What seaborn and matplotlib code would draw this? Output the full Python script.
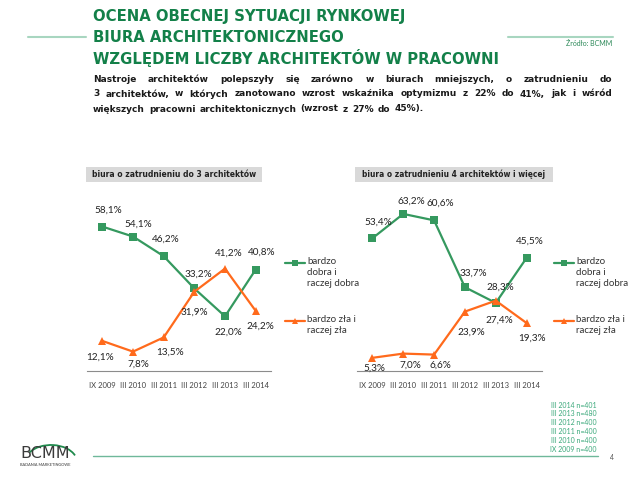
import matplotlib
matplotlib.use("Agg")
import matplotlib.pyplot as plt
from matplotlib.lines import Line2D
from matplotlib.patches import Rectangle, Arc
import pandas as pd
import seaborn as sns

W, H = 638, 480

OKRESY = ["IX 2009", "III 2010", "III 2011", "III 2012", "III 2013", "III 2014"]
MALE_DOBRA = [58.1, 54.1, 46.2, 33.2, 22.0, 40.8]
MALE_ZLA = [12.1, 7.8, 13.5, 31.9, 41.2, 24.2]
DUZE_DOBRA = [53.4, 63.2, 60.6, 33.7, 27.4, 45.5]
DUZE_ZLA = [5.3, 7.0, 6.6, 23.9, 28.3, 19.3]
SERIE = ["bardzo\ndobra i\nraczej dobra", "bardzo zła i\nraczej zła"]
PROBY = ["III 2014 n=401", "III 2013 n=480", "III 2012 n=400",
         "III 2011 n=400", "III 2010 n=400", "IX 2009 n=400"]

TYTUL = ["OCENA OBECNEJ SYTUACJI RYNKOWEJ",
         "BIURA ARCHITEKTONICZNEGO",
         "WZGLĘDEM LICZBY ARCHITEKTÓW W PRACOWNI"]
OPIS = ["Nastroje architektów polepszyły się zarówno w biurach mniejszych, o zatrudnieniu do",
        "3 architektów, w których zanotowano wzrost wskaźnika optymizmu z 22% do 41%, jak i wśród",
        "większych pracowni architektonicznych (wzrost z 27% do 45%)."]

GREEN = "#35995f"
ORANGE = "#ff6a1c"
TITLE_GREEN = "#138049"

# label offsets in image pixels (dx, dy with dy down)
OFF_MALE_DOBRA = [(6, -16), (5, -12), (2, -17), (4, -14), (3, 16), (6, -17)]
OFF_MALE_ZLA = [(-2, 16), (5, 13), (6, 15), (0, 20), (4, -15), (5, 15)]
OFF_DUZE_DOBRA = [(6, -16), (8, -13), (6, -17), (8, -14), (4, 17), (3, -17)]
OFF_DUZE_ZLA = [(2, 10), (7, 12), (6, 11), (6, 21), (5, -13), (5, 15)]

sns.set_theme(style="white")
plt.rcParams["font.family"] = ["Lato", "DejaVu Sans"]


def fx(x):
    return x / W


def fy(y):
    return 1 - y / H


def pct(v):
    return f"{v:.1f}%".replace(".", ",")


def text_width(s, size, **kw):
    t = fig.text(0, 0, s, fontsize=size, **kw)
    w = t.get_window_extent(fig.canvas.get_renderer()).width
    t.remove()
    return w


def fit_size(s, target, size=8, **kw):
    # font size that gives the wanted pixel width
    return size * target / text_width(s, size, **kw)


BOLD = dict(fontweight="bold", family=["DejaVu Sans"])


def panel(ax, dobra, zla, off_d, off_z, tytul, box, box_w, leg_x):
    df = pd.DataFrame({
        "okres": OKRESY * 2,
        "wartosc": dobra + zla,
        "ocena": [SERIE[0]] * 6 + [SERIE[1]] * 6,
    })
    sns.lineplot(data=df, x="okres", y="wartosc", hue="ocena", style="ocena",
                 markers=["s", "^"], dashes=False, palette=[GREEN, ORANGE],
                 markersize=6.3, linewidth=1.6, markeredgewidth=0, sort=False,
                 legend=False, ax=ax)
    for vals, offs in ((dobra, off_d), (zla, off_z)):
        for i, (v, (dx, dy)) in enumerate(zip(vals, offs)):
            ax.annotate(pct(v), (i, v), xytext=(dx, -dy), textcoords="offset pixels",
                        ha="center", va="center", fontsize=7.2, color="#222222")
    ax.set_xlim(-0.5, 5.5)
    ax.set_ylim(0, 70)
    ax.set_xlabel("")
    ax.set_ylabel("")
    ax.set_yticks([])
    for s in ("left", "top", "right"):
        ax.spines[s].set_visible(False)
    ax.spines["bottom"].set_color("#8c8c8c")
    ax.spines["bottom"].set_linewidth(0.8)
    ax.set_xticks(range(6))
    ax.set_xticklabels(OKRESY, fontsize=5.5, color="#444444")
    ax.set_xticks([i - 0.5 for i in range(7)], minor=True)
    ax.tick_params(axis="x", which="major", length=0, pad=8)
    ax.tick_params(axis="x", which="minor", length=4, color="#8c8c8c", width=0.8, direction="out")
    ax.patch.set_alpha(0)

    # grey header box
    x0, x1 = box
    fig.add_artist(Rectangle((fx(x0), fy(182)), fx(x1 - x0), 15 / H,
                             transform=fig.transFigure, color="#d9d9d9", lw=0))
    fig.text(fx((x0 + x1) / 2), fy(174.5), tytul, ha="center", va="center",
             fontsize=fit_size(tytul, box_w, **BOLD), color="#222222", **BOLD)

    # legend drawn by hand
    for (yy, col, mk, lab) in ((263, GREEN, "s", SERIE[0]), (321, ORANGE, "^", SERIE[1])):
        fig.add_artist(Line2D([fx(leg_x), fx(leg_x + 20)], [fy(yy), fy(yy)],
                              transform=fig.transFigure, color=col, lw=1.6))
        fig.add_artist(Line2D([fx(leg_x + 10)], [fy(yy)], transform=fig.transFigure,
                              color=col, marker=mk, markersize=4.5, markeredgewidth=0))
        fig.text(fx(leg_x + 22), fy(yy - 6.5), lab, ha="left", va="top",
                 fontsize=7, color="#333333", linespacing=1.35)


fig = plt.figure(figsize=(6.38, 4.8), dpi=100)
fig.patch.set_facecolor("white")

ax1 = fig.add_axes([fx(87), fy(371), fx(184), 174 / H])
ax2 = fig.add_axes([fx(357), fy(371), fx(185), 174 / H])
panel(ax1, MALE_DOBRA, MALE_ZLA, OFF_MALE_DOBRA, OFF_MALE_ZLA,
      "biura o zatrudnieniu do 3 architektów", (86, 262), 161, 285)
panel(ax2, DUZE_DOBRA, DUZE_ZLA, OFF_DUZE_DOBRA, OFF_DUZE_ZLA,
      "biura o zatrudnieniu 4 architektów i więcej", (355, 553), 182, 554)

# title, sized so the last line ends where the reference does
ts = fit_size(TYTUL[2], 404, **BOLD)
for i, line in enumerate(TYTUL):
    fig.text(fx(93), fy(16 + 21 * i), line, ha="left", va="center", fontsize=ts,
             color=TITLE_GREEN, **BOLD)
fig.add_artist(Line2D([fx(28), fx(86)], [fy(37), fy(37)], transform=fig.transFigure,
                      color="#a8d6c0", lw=1.5))
fig.add_artist(Line2D([fx(508), fx(613)], [fy(37), fy(37)], transform=fig.transFigure,
                      color="#a8d6c0", lw=1.5))
fig.text(fx(612), fy(44), "Źródło: BCMM", ha="right", va="center", fontsize=5, color="#2e8a5a")

# justified intro text
bs = (fit_size(OPIS[1], 500, **BOLD) + fit_size(OPIS[2], 302, **BOLD)) / 2
rend = fig.canvas.get_renderer()
sw = text_width("a a", bs, **BOLD) - text_width("aa", bs, **BOLD)
for i, line in enumerate(OPIS):
    y = fy(79 + 15 * i)
    words = line.split(" ")
    texts = [fig.text(0, y, w, ha="left", va="center", fontsize=bs,
                      color="#1a1a1a", **BOLD) for w in words]
    widths = [t.get_window_extent(rend).width for t in texts]
    if i < len(OPIS) - 1:
        gap = (612 - 93 - sum(widths)) / (len(words) - 1)
    else:
        gap = sw * 1.3
    x = 93
    for t, w in zip(texts, widths):
        t.set_x(fx(x))
        x += w + gap

# sample sizes
for i, s in enumerate(PROBY):
    fig.text(fx(597), fy(405 + 8.9 * i), s, ha="right", va="center", fontsize=5, color="#3aa87a")

# footer line and page number
fig.add_artist(Line2D([fx(93), fx(598)], [fy(456), fy(456)], transform=fig.transFigure,
                      color="#6fb89a", lw=1))
fig.text(fx(612), fy(458), "4", ha="center", va="center", fontsize=5, color="#555555")

# logo
fig.text(fx(45), fy(454), "BCMM", ha="center", va="center", fontsize=11.5,
         color="#3a3a3a", family=["DejaVu Sans"])
fig.add_artist(Arc((fx(51), fy(462)), fx(52), 34 / H, theta1=20, theta2=150,
                   transform=fig.transFigure, color="#1f8a4c", lw=1.3))
fig.text(fx(45), fy(464.5), "BADANIA MARKETINGOWE", ha="center", va="center",
         fontsize=2.8, color="#3a3a3a")

fig.savefig("out.png", dpi=100)
